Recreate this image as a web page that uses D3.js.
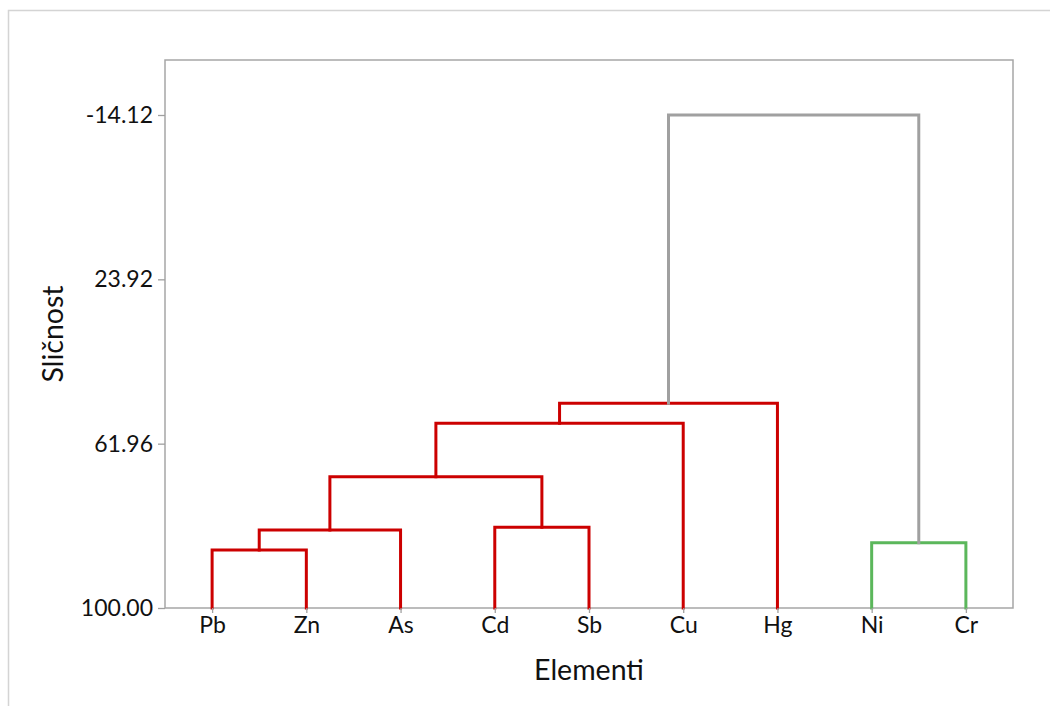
<!DOCTYPE html>
<html>
<head>
<meta charset="utf-8">
<script src="https://cdn.jsdelivr.net/npm/d3@7"></script>
<style>
  body { margin: 0; background: #fff; }
  text { font-family: Lato, "Open Sans", sans-serif; fill: #111; }
  .tick text { font-size: 23px; }
  .tick line { stroke: #a0a0a0; stroke-width: 1.3; }
  .title { font-size: 28.5px; }
  .link { fill: none; stroke-width: 3; stroke-linejoin: miter; stroke-linecap: square; }
</style>
</head>
<body>
<div id="chart"></div>
<script>
var width = 1050, height = 706;
var margin = {top: 60, right: 37, bottom: 98, left: 165};

// leaves in drawing order
var leaves = ["Pb", "Zn", "As", "Cd", "Sb", "Cu", "Hg", "Ni", "Cr"];
var leafGroup = [0, 0, 0, 0, 0, 0, 0, 1, 1];

// linkage: node ids 0..8 are leaves, each merge makes node 9, 10, ...
var mergeLeft  = [0, 9, 3, 10, 12, 13, 7, 14];
var mergeRight = [1, 2, 4, 11, 5, 6, 8, 15];
var mergeSim   = [86.57, 81.94, 81.32, 69.6, 57.25, 52.62, 84.88, -14.12];

var yTicks = [-14.12, 23.92, 61.96, 100.00];
var groupColors = ["#cc0000", "#5bb75b"];
var mixedColor = "#a0a0a0";

var svg = d3.select("#chart").append("svg")
  .attr("width", width)
  .attr("height", height);

// outer light frame
svg.append("rect")
  .attr("x", 8.5).attr("y", 10.5)
  .attr("width", 1200).attr("height", 900)
  .attr("fill", "none")
  .attr("stroke", "#d4d4d4")
  .attr("stroke-width", 1.5);

var x = d3.scalePoint()
  .domain(leaves)
  .range([margin.left, width - margin.right])
  .padding(0.5);

var y = d3.scaleLinear()
  .domain([-14.12, 100])
  .range([115, height - margin.bottom]);

// plot frame
svg.append("rect")
  .attr("x", margin.left).attr("y", margin.top)
  .attr("width", width - margin.right - margin.left)
  .attr("height", height - margin.bottom - margin.top)
  .attr("fill", "none")
  .attr("stroke", "#a6a6a6")
  .attr("stroke-width", 1.5);

// build nodes
var nodes = leaves.map(function(name, i) {
  return {x: x(name), h: 100, groups: [leafGroup[i]]};
});
mergeLeft.forEach(function(l, i) {
  var a = nodes[l], b = nodes[mergeRight[i]];
  nodes.push({
    a: a, b: b,
    x: (a.x + b.x) / 2,
    h: mergeSim[i],
    groups: Array.from(new Set(a.groups.concat(b.groups)))
  });
});

var merges = nodes.slice(leaves.length);

svg.append("g")
  .selectAll("path")
  .data(merges)
  .enter().append("path")
    .attr("class", "link")
    .attr("stroke", function(d) {
      return d.groups.length == 1 ? groupColors[d.groups[0]] : mixedColor;
    })
    .attr("d", function(d) {
      return "M" + d.a.x + "," + y(d.a.h) +
        "V" + y(d.h) + "H" + d.b.x + "V" + y(d.b.h);
    });

// axes
var yAxis = svg.append("g")
  .attr("transform", "translate(" + margin.left + ",0)")
  .call(d3.axisLeft(y).tickValues(yTicks)
    .tickFormat(function(d) { return d.toFixed(2); })
    .tickSize(7).tickPadding(5));
yAxis.select(".domain").remove();

var xAxis = svg.append("g")
  .attr("transform", "translate(0," + (height - margin.bottom) + ")")
  .call(d3.axisBottom(x).tickSize(5).tickPadding(4));
xAxis.select(".domain").remove();

svg.selectAll(".tick text").attr("fill", "#111");

svg.append("text")
  .attr("class", "title")
  .attr("text-anchor", "middle")
  .attr("x", (margin.left + width - margin.right) / 2)
  .attr("y", 680)
  .text("Elementi");

svg.append("text")
  .attr("class", "title")
  .attr("text-anchor", "middle")
  .attr("transform", "translate(63," + (margin.top + height - margin.bottom) / 2 + ") rotate(-90)")
  .text("Sličnost");
</script>
</body>
</html>
